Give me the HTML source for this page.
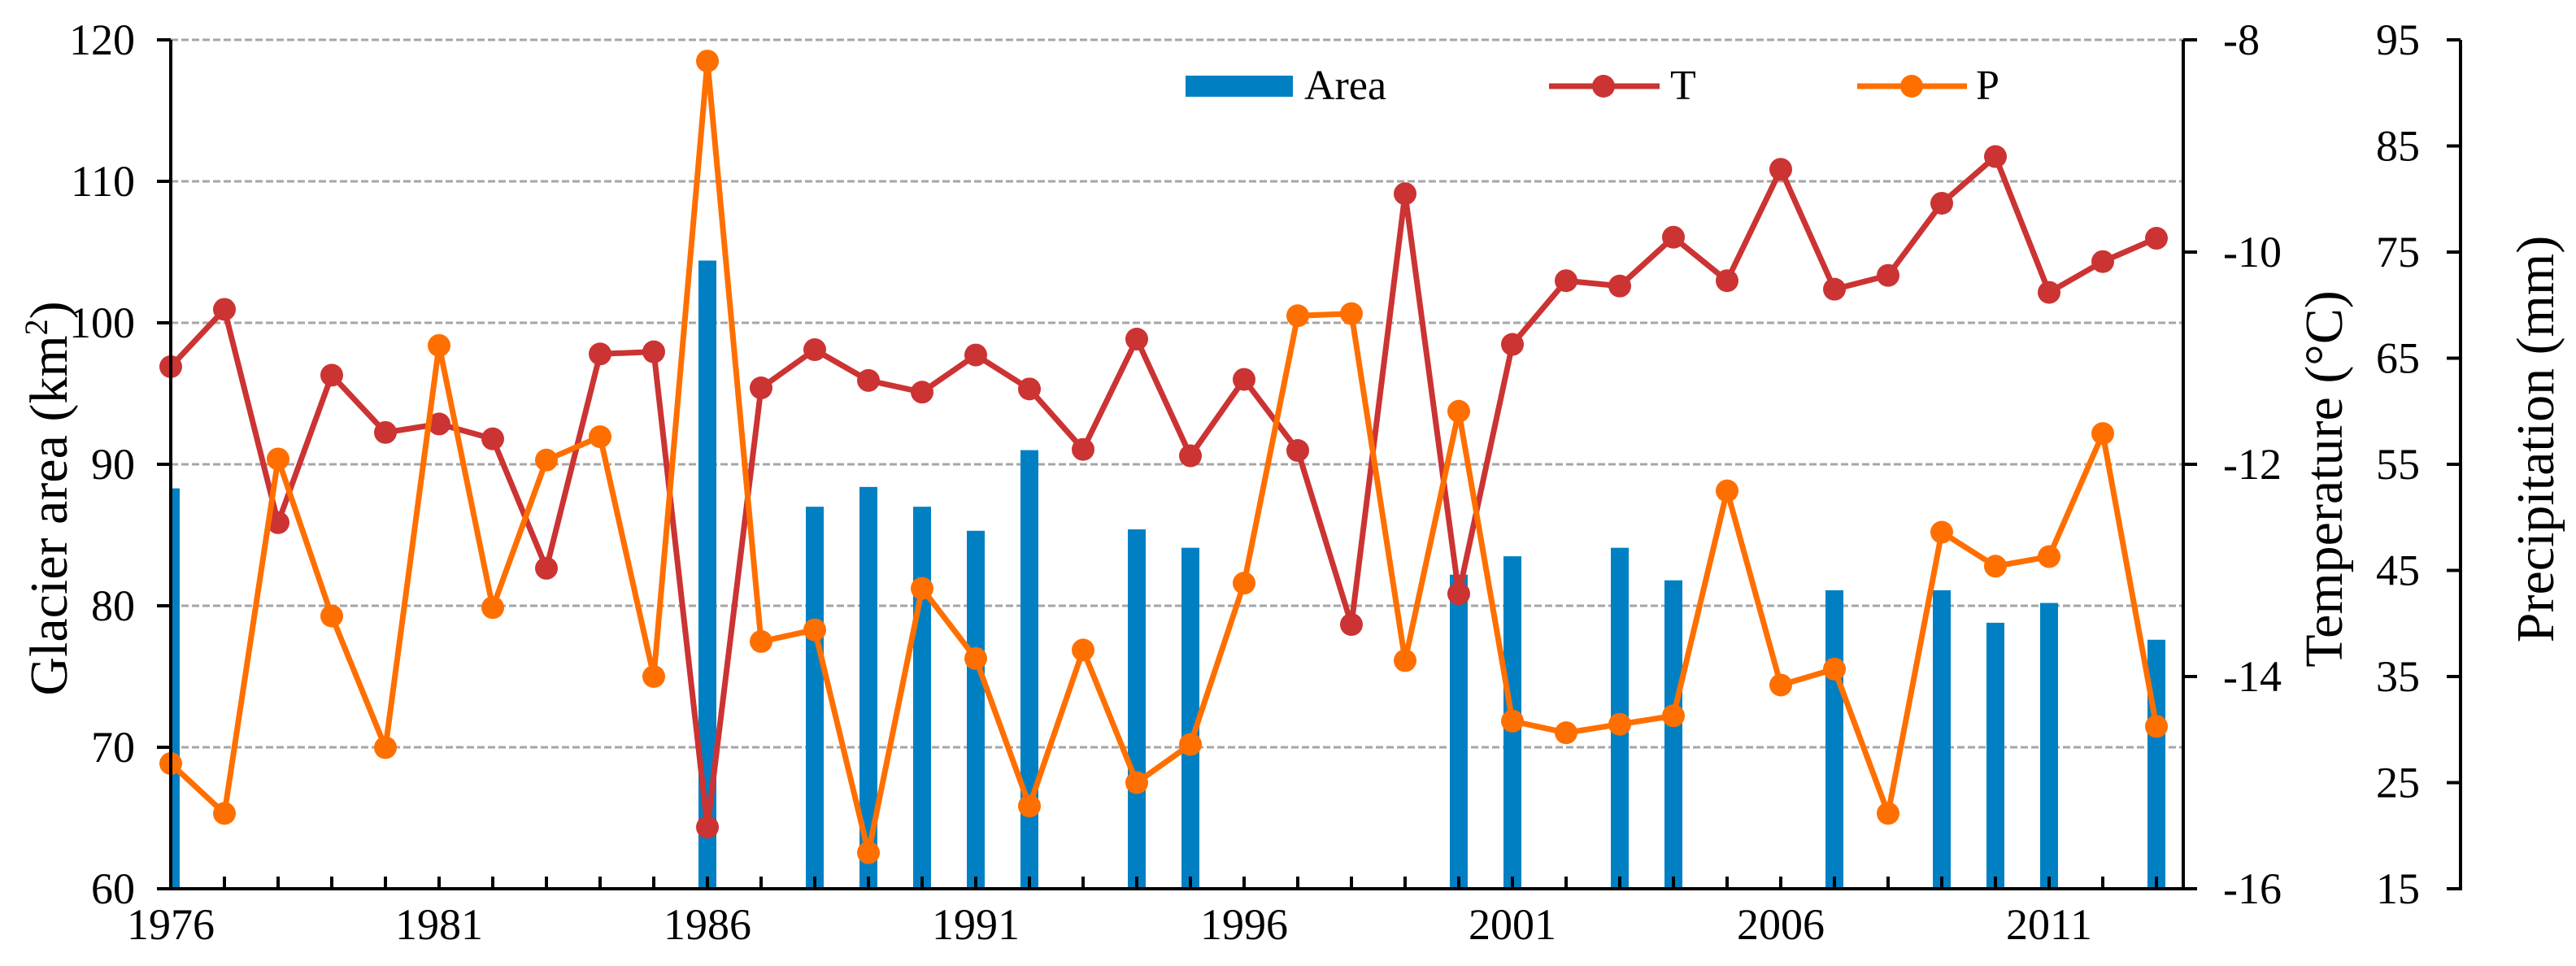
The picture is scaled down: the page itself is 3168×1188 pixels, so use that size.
<!DOCTYPE html>
<html><head><meta charset="utf-8"><style>
html,body{margin:0;padding:0;background:#fff;}
svg text{font-family:"Liberation Serif",serif;fill:#000;}
</style></head><body>
<svg id="chart" width="3168" height="1183" viewBox="0 0 3168 1183" xmlns="http://www.w3.org/2000/svg">
<g id="grid"></g>
<g id="bars"></g>
<g id="lines"></g>
<g id="axes"></g>
<g id="legend">
  <rect x="1458" y="93" width="132" height="26" fill="#0080c3"/>
  <text x="1604" y="122" font-size="52">Area</text>
  <line x1="1905" y1="106" x2="2041" y2="106" stroke="#cc3333" stroke-width="7"/>
  <circle cx="1972" cy="106" r="14" fill="#cc3333"/>
  <text x="2054" y="122" font-size="52">T</text>
  <line x1="2284" y1="106" x2="2419" y2="106" stroke="#ff6f00" stroke-width="7"/>
  <circle cx="2351" cy="106" r="14" fill="#ff6f00"/>
  <text x="2430" y="122" font-size="52">P</text>
</g>
<text transform="translate(82,613) rotate(-90)" text-anchor="middle" font-size="66">Glacier area (km<tspan font-size="40" dy="-24">2</tspan><tspan dy="24">)</tspan></text>
<text transform="translate(2880,589) rotate(-90)" text-anchor="middle" font-size="66">Temperature (°C)</text>
<text transform="translate(3140,540) rotate(-90)" text-anchor="middle" font-size="66">Precipitation (mm)</text>
</svg>
<script>
const years = [1976,1977,1978,1979,1980,1981,1982,1983,1984,1985,1986,1987,1988,1989,1990,1991,1992,1993,1994,1995,1996,1997,1998,1999,2000,2001,2002,2003,2004,2005,2006,2007,2008,2009,2010,2011,2012,2013];
const areaValues = [88.3,null,null,null,null,null,null,null,null,null,104.4,null,87.0,88.4,87.0,85.3,91.0,null,85.4,84.1,null,null,null,null,82.2,83.5,null,84.1,81.8,null,null,81.1,null,81.1,78.8,80.2,null,77.6];
const tempValues = [-11.08,-10.54,-12.55,-11.16,-11.70,-11.62,-11.76,-12.98,-10.96,-10.94,-15.42,-11.28,-10.92,-11.21,-11.32,-10.97,-11.29,-11.86,-10.82,-11.92,-11.20,-11.87,-13.51,-9.45,-13.22,-10.87,-10.27,-10.32,-9.86,-10.27,-9.22,-10.35,-10.22,-9.54,-9.10,-10.38,-10.09,-9.87];
const precipValues = [26.8,22.1,55.5,40.7,28.3,66.2,41.5,55.4,57.6,35.0,93.0,38.3,39.4,18.4,43.3,36.7,22.8,37.5,25.0,28.6,43.8,69.0,69.2,36.5,60.0,30.8,29.7,30.5,31.3,52.5,34.2,35.7,22.1,48.6,45.4,46.3,57.9,30.3];
const areaTicks = [60,70,80,90,100,110,120];
const tempTicks = [-16,-14,-12,-10,-8];
const precipTicks = [15,25,35,45,55,65,75,85,95];
const xLabelYears = [1976,1981,1986,1991,1996,2001,2006,2011];

const NS='http://www.w3.org/2000/svg';
const L=210,R=2685,T=49,B=1093,STEP=66;
const xPos=i=>L+i*STEP;
const yArea=v=>B-(v-60)/60*(B-T);
const yTemp=v=>B-(v+16)/8*(B-T);
const yPrec=v=>B-(v-15)/80*(B-T);
function mk(tag,attrs,parent){const e=document.createElementNS(NS,tag);for(const k in attrs)e.setAttribute(k,attrs[k]);parent.appendChild(e);return e;}
const grid=document.getElementById('grid'),bars=document.getElementById('bars'),lines=document.getElementById('lines'),axes=document.getElementById('axes');

areaTicks.forEach(v=>{
  if(v>60){const g=mk('line',{x1:L,x2:R,y1:yArea(v),y2:yArea(v),stroke:'#a6a6a6','stroke-width':3,'stroke-dasharray':'9 4'},grid);
  
  }
  const t=mk('line',{x1:L-17,x2:L,y1:yArea(v),y2:yArea(v),stroke:'#000','stroke-width':4},axes);
  
  
  const lb=mk('text',{x:166,y:yArea(v)+18,'text-anchor':'end','font-size':54},axes);lb.textContent=v;
  
  
});

const clip=mk('clipPath',{id:'plotclip'},document.getElementById('chart'));
mk('rect',{x:L,y:0,width:R-L,height:B},clip);
bars.setAttribute('clip-path','url(#plotclip)');
areaValues.forEach((v,i)=>{
  if(v===null)return;
  const r=mk('rect',{x:xPos(i)-11,y:yArea(v),width:22,height:B-yArea(v),fill:'#0080c3'},bars);
  
  
});

function series(vals,yf,color,name){
  const p=mk('polyline',{points:vals.map((v,i)=>xPos(i)+','+yf(v)).join(' '),fill:'none',stroke:color,'stroke-width':7,'stroke-linejoin':'round'},lines);
  
  
  vals.forEach((v,i)=>{
    const c=mk('circle',{cx:xPos(i),cy:yf(v),r:14,fill:color},lines);
    
    
  });
}
series(tempValues,yTemp,'#cc3333','temperature');
series(precipValues,yPrec,'#ff6f00','precipitation');

let a=mk('line',{x1:L,x2:L,y1:T,y2:B+2,stroke:'#000','stroke-width':4},axes);


a=mk('line',{x1:L-17,x2:R,y1:B,y2:B,stroke:'#000','stroke-width':4},axes);


a=mk('line',{x1:R,x2:R,y1:T,y2:B+2,stroke:'#000','stroke-width':4},axes);


a=mk('line',{x1:3026,x2:3026,y1:T,y2:B+2,stroke:'#000','stroke-width':4},axes);



years.forEach((y,i)=>{
  const t=mk('line',{x1:xPos(i),x2:xPos(i),y1:B-15,y2:B,stroke:'#000','stroke-width':4},axes);
  
  
  if(xLabelYears.includes(y)){
    const lb=mk('text',{x:xPos(i),y:1155,'text-anchor':'middle','font-size':54},axes);lb.textContent=y;
    
    
  }
});
tempTicks.forEach(v=>{
  const t=mk('line',{x1:R,x2:R+17,y1:yTemp(v),y2:yTemp(v),stroke:'#000','stroke-width':4},axes);
  
  
  const lb=mk('text',{x:2734,y:yTemp(v)+18,'font-size':54},axes);lb.textContent=v;
  
  
});
precipTicks.forEach(v=>{
  const t=mk('line',{x1:3009,x2:3026,y1:yPrec(v),y2:yPrec(v),stroke:'#000','stroke-width':4},axes);
  
  
  const lb=mk('text',{x:2976,y:yPrec(v)+18,'text-anchor':'end','font-size':54},axes);lb.textContent=v;
  
  
});
</script>
</body></html>
